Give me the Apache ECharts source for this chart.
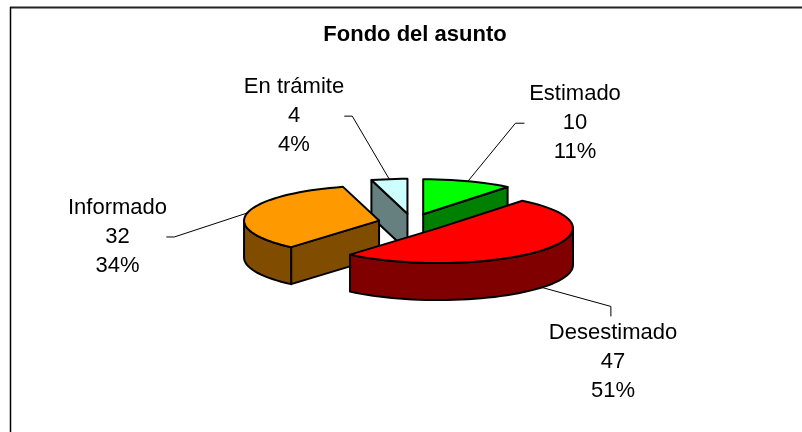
<!DOCTYPE html>
<html>
<head>
<meta charset="utf-8">
<style>html,body{margin:0;padding:0;background:#fff}#c{width:802px;height:432px}</style>
<script src="https://cdn.jsdelivr.net/npm/echarts@6/dist/echarts.min.js"></script>
</head>
<body>
<div id="c"></div>
<script>
const titleText = 'Fondo del asunto';
const categories = ['Estimado', 'Desestimado', 'Informado', 'En trámite'];
const values = [10, 47, 32, 4];
const percents = ['11%', '51%', '34%', '4%'];
const topColors = ['#00FF00', '#FF0000', '#FF9900', '#CCFFFF'];
const sideColors = ['#008000', '#800000', '#804D00', '#668080'];
const paintRank = [0, 3, 2, 1];

const cx = 412, cy = 222.5, rx = 135, ry = 35, depth = 37, explode = 0.25;
const leaderElbows = [[[47.5, -58], [56.5, -58]], [[69, 19], [69, 29]], [[-73, 24], [-81, 24]], [[-37, -63], [-45, -63]]];
const labelCenters = [[575, 123], [613, 362], [117.5, 237], [294, 116]];
const total = values.reduce((a, b) => a + b, 0);

function pt(c, deg) {
  const r = deg * Math.PI / 180;
  return [c[0] + rx * Math.sin(r), c[1] - ry * Math.cos(r)];
}
function arc(c, a, b) {
  const out = [], n = Math.max(2, Math.ceil((b - a) / 3));
  for (let i = 0; i <= n; i++) out.push(pt(c, a + (b - a) * i / n));
  return out;
}
const down = p => [p[0], p[1] + depth];
const edge = { stroke: '#000', lineWidth: 2, lineJoin: 'round' };

function renderItem(params, api) {
  const i = params.dataIndex;
  const before = values.slice(0, i).reduce((a, b) => a + b, 0);
  const s = before / total * 360;
  const e = s + api.value(0) / total * 360;
  const mid = (s + e) / 2;
  const mr = mid * Math.PI / 180;
  const apex = [cx + explode * rx * Math.sin(mr), cy - explode * ry * Math.cos(mr)];
  const z = paintRank[i] * 10;
  const children = [];
  const poly = (points, fill, bump) => children.push({
    type: 'polygon', z2: z + bump, shape: { points }, style: Object.assign({ fill }, edge)
  });
  if (s > 180 && s < 360) {
    const p = pt(apex, s);
    poly([apex, p, down(p), down(apex)], sideColors[i], 1);
  }
  if (e > 0 && e < 180) {
    const p = pt(apex, e);
    poly([apex, p, down(p), down(apex)], sideColors[i], 1);
  }
  const a = Math.max(s, 90), b = Math.min(e, 270);
  if (b > a) {
    const top = arc(apex, a, b);
    poly(top.concat(top.slice().reverse().map(down)), sideColors[i], 2);
  }
  poly([apex].concat(arc(apex, s, e)), topColors[i], 3);

  let anchor = pt(apex, mid);
  if (mid > 90 && mid < 270) anchor = down(anchor);
  const pts = [anchor].concat(leaderElbows[i].map(d => [anchor[0] + d[0], anchor[1] + d[1]]));
  children.push({
    type: 'polyline', z2: 50, shape: { points: pts },
    style: { stroke: '#000', lineWidth: 1, fill: 'none' }
  });
  children.push({
    type: 'text', z2: 60, x: labelCenters[i][0], y: labelCenters[i][1],
    style: {
      text: categories[i] + '\n' + api.value(0) + '\n' + percents[i],
      fill: '#000', font: '22px "Liberation Sans", Arial, sans-serif',
      lineHeight: 29, align: 'center', verticalAlign: 'middle'
    }
  });
  return { type: 'group', children };
}

const chart = echarts.init(document.getElementById('c'), null, { renderer: 'canvas' });
chart.setOption({
  animation: false,
  backgroundColor: '#fff',
  title: {
    text: titleText, left: 410, top: 19, textAlign: 'center',
    textStyle: { fontFamily: '"Liberation Sans", Arial, sans-serif', fontWeight: 'bold', fontSize: 22, color: '#000' }
  },
  graphic: [
    { type: 'line', shape: { x1: 10, y1: 7.5, x2: 802, y2: 7.5 }, style: { stroke: '#222', lineWidth: 2 } },
    { type: 'line', shape: { x1: 10.5, y1: 7, x2: 10.5, y2: 432 }, style: { stroke: '#000', lineWidth: 1.5 } }
  ],
  series: [{
    type: 'custom',
    coordinateSystem: 'none',
    renderItem,
    data: values.map(v => [v])
  }]
});
</script>
</body>
</html>
